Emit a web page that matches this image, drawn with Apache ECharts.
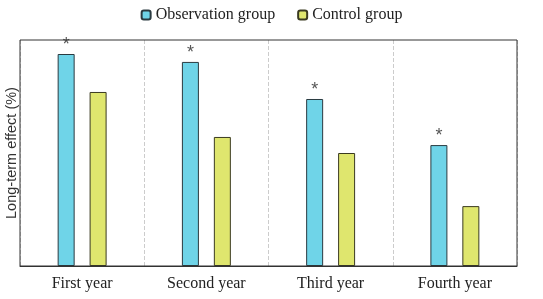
<!DOCTYPE html>
<html>
<head>
<meta charset="utf-8">
<script src="https://cdn.jsdelivr.net/npm/echarts@6/dist/echarts.min.js"></script>
<style>
  html, body { margin: 0; padding: 0; background: #fff; }
  #chart { width: 543px; height: 299px; }
</style>
</head>
<body>
<div id="chart"></div>
<script>
var categories = ["First year", "Second year", "Third year", "Fourth year"];
var observation = [93.8, 90.3, 73.9, 53.5];
var control = [77.0, 57.1, 50.0, 26.5];
var marks = ["*", "*", "*", "*"];

var myChart = echarts.init(document.getElementById("chart"));
var serif = "'Liberation Serif', 'Times New Roman', serif";

var option = {
  backgroundColor: "#fff",
  animation: false,
  legend: {
    top: 2,
    left: "center",
    itemWidth: 9,
    itemHeight: 9,
    itemGap: 22,
    textStyle: { fontFamily: serif, fontSize: 16, color: "#222" },
    data: ["Observation group", "Control group"]
  },
  grid: {
    left: 20,
    right: 26,
    top: 40,
    bottom: 33,
    z: 3,
    containLabel: false,
    outerBoundsMode: "none",
    show: true,
    borderColor: "#333",
    borderWidth: 1
  },
  xAxis: {
    type: "category",
    data: categories,
    axisLine: { show: true, lineStyle: { color: "#333" } },
    axisTick: { show: false },
    axisLabel: { fontFamily: serif, fontSize: 16, color: "#222", margin: 10 },
    splitLine: { show: true, lineStyle: { color: "#ccc", type: "dashed" } }
  },
  yAxis: {
    type: "value",
    min: 0,
    max: 100,
    name: "Long-term effect (%)",
    nameLocation: "middle",
    nameGap: 1,
    nameTextStyle: { fontFamily: "'Liberation Sans', Arial, sans-serif", fontSize: 14.5, color: "#333" },
    axisLine: { show: false },
    axisTick: { show: false },
    axisLabel: { show: false },
    splitLine: { show: false }
  },
  series: [
    {
      name: "Observation group",
      type: "bar",
      data: observation,
      barWidth: 17,
      barGap: "88%",
      itemStyle: { color: "#6fd4e8", borderColor: "#2a3a40", borderWidth: 1 },
      label: {
        show: true,
        position: "top",
        distance: 0,
        formatter: function (p) { return marks[p.dataIndex]; },
        fontSize: 18,
        color: "#555"
      }
    },
    {
      name: "Control group",
      type: "bar",
      data: control,
      barWidth: 17,
      itemStyle: { color: "#dfe66e", borderColor: "#3a3a20", borderWidth: 1 }
    }
  ]
};

myChart.setOption(option);
</script>
</body>
</html>
